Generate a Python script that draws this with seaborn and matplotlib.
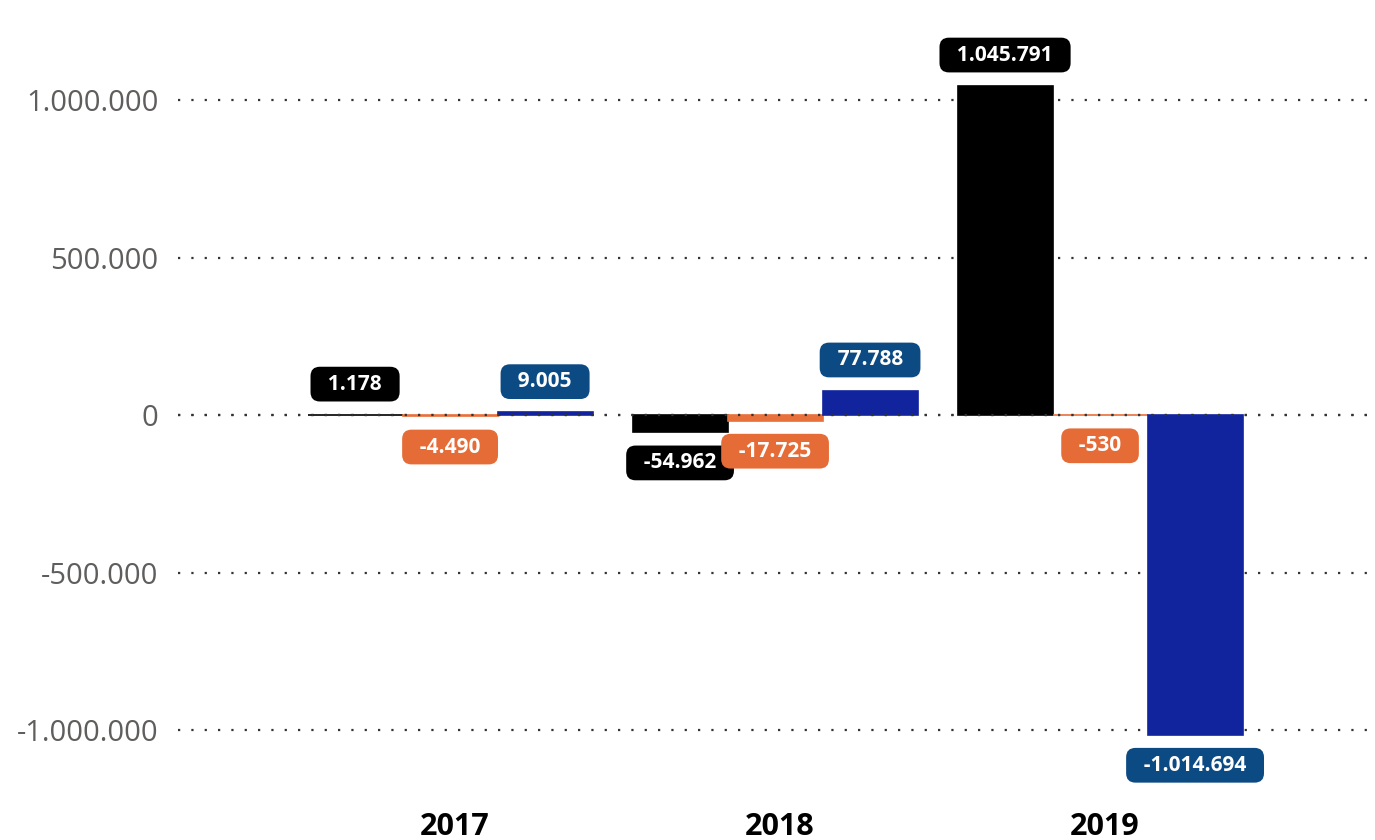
import pandas as pd
import matplotlib.pyplot as plt
import seaborn as sns
from matplotlib.transforms import ScaledTranslation

anos = ["2017", "2018", "2019"]
series = ["A", "B", "C"]
valores_a = [1178, -54962, 1045791]
valores_b = [-4490, -17725, -530]
valores_c = [9005, 77788, -1014694]
yticks = [-1000000, -500000, 0, 500000, 1000000]

cores_barra = ["#000000", "#E8703A", "#12239E"]
cores_rotulo = ["#000000", "#E66C37", "#0C4A83"]

df = pd.DataFrame({
    "ano": anos * 3,
    "serie": [s for s in series for _ in anos],
    "valor": valores_a + valores_b + valores_c,
})

sns.set_style("white")
plt.rcParams["font.family"] = ["Open Sans", "DejaVu Sans"]

fig = plt.figure(figsize=(13.75, 8.4), dpi=100)
ax = fig.add_axes([0.1295, 0.0476, 0.8705, 0.9524])

for y in yticks:
    ax.axhline(y, color="#333333", lw=1.6, ls=(0, (1, 5)), zorder=0)

sns.barplot(data=df, x="ano", y="valor", hue="serie", palette=cores_barra,
            width=0.877, saturation=1, legend=False, ax=ax, zorder=2)

# barras muito pequenas ficam visiveis com uma borda da mesma cor
for p in ax.patches:
    p.set_edgecolor(p.get_facecolor())
    p.set_linewidth(1.2)

ax.axhline(0, color="#333333", lw=1.6, ls=(0, (1, 5)), zorder=3)

def fmt(v):
    return f"{v:,.0f}".replace(",", ".")

for i, cont in enumerate(ax.containers):
    for bar, v in zip(cont, df[df["serie"] == series[i]]["valor"]):
        cx = bar.get_x() + bar.get_width() / 2
        off = 22 if v >= 0 else -22
        ax.annotate("  " + fmt(v) + "  ", xy=(cx, v), xytext=(0, off),
                    textcoords="offset points", ha="center", va="center",
                    color="white", fontsize=15, fontweight="bold", zorder=5,
                    bbox=dict(boxstyle="round,pad=0.33,rounding_size=0.45",
                              fc=cores_rotulo[i], ec="none"))

ax.set_xlim(-0.837, 2.846)
ax.set_ylim(-1222000, 1317500)
ax.set_yticks(yticks)
ax.set_yticklabels([fmt(v) for v in yticks], color="#605E5C", fontsize=21)
ax.tick_params(axis="y", length=0, pad=14)
ax.tick_params(axis="x", length=0, pad=8.5)
desloc = ScaledTranslation(5 / 100, 0, fig.dpi_scale_trans)
for lab in ax.get_xticklabels():
    lab.set_fontweight("bold")
    lab.set_fontsize(22)
    lab.set_color("black")
    lab.set_transform(lab.get_transform() + desloc)
ax.set_xlabel("")
ax.set_ylabel("")
sns.despine(ax=ax, left=True, bottom=True)

plt.savefig("out.png", dpi=100)
